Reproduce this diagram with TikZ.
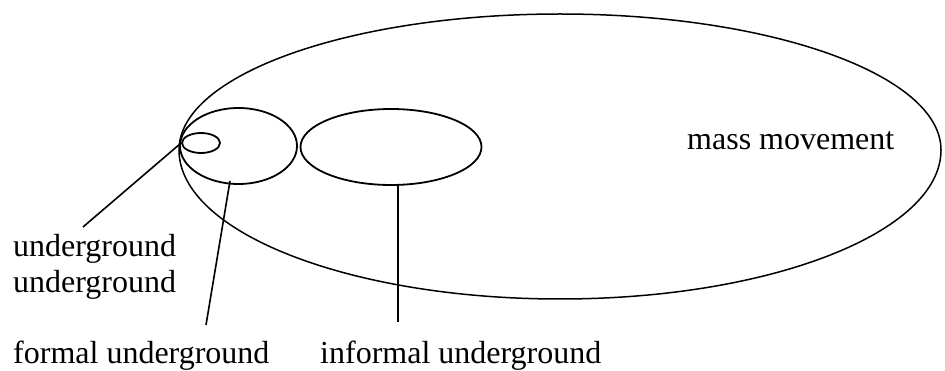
\documentclass[tikz,border=0pt]{standalone}
\usepackage{fontspec}
\setmainfont{Liberation Serif}
\usetikzlibrary{shapes.geometric}
\begin{document}
\begin{tikzpicture}[x=1pt,y=-1pt,
  oval/.style={draw, ellipse, inner sep=0pt, line width=1.8pt},
  bigline/.style={draw, line width=1.5pt},
  lbl/.style={anchor=base west, inner sep=0pt, font=\fontsize{32}{36}\selectfont},
  conn/.style={line width=1.6pt}]
\useasboundingbox (0,0) rectangle (945,371);
% mass movement (big oval)
\draw[bigline] (179,150) coordinate (mmL)
  arc[start angle=180, end angle=360, x radius=381, y radius=136]
  arc[start angle=0, end angle=180, x radius=381, y radius=149] -- cycle;
% inner ovals
\node[oval, minimum width=117pt, minimum height=76pt] (formal) at (238.5,146) {};
\node[oval, minimum width=38pt, minimum height=20pt] (small) at (201,143) {};
\node[oval, minimum width=181pt, minimum height=76pt] (informal) at (391,147) {};
% labels
\node[lbl] (mm) at (687,150) {mass movement};
\node[lbl] (ug1) at (13,257) {underground};
\node[lbl] (ug2) at (13,293) {underground};
\node[lbl] (fu) at (13,363) {formal underground};
\node[lbl] (iu) at (320,363) {informal underground};
% connectors
\coordinate (ugend) at (83,227);
\draw[conn] (ugend) -- (small.west);
\coordinate (fuend) at (206,325);
\coordinate (futop) at (230,181);
\draw[conn] (fuend) -- (futop);
\coordinate (iuend) at (398,322);
\coordinate (iutop) at (398,184);
\draw[conn] (iuend) -- (iutop);
\end{tikzpicture}
\end{document}
